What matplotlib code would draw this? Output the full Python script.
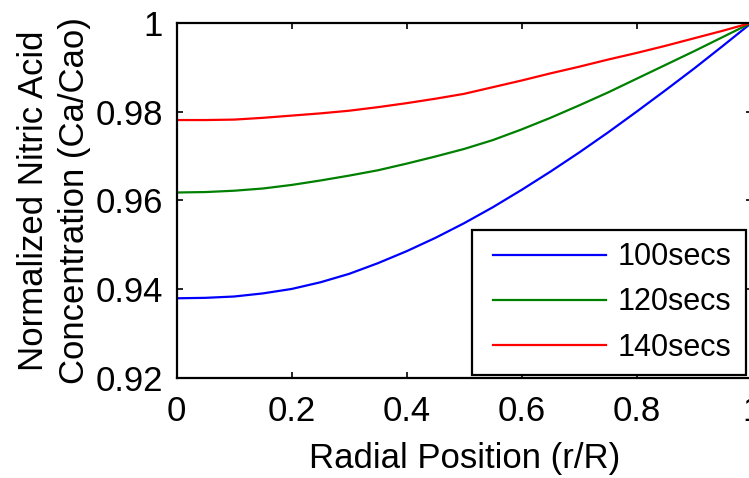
import matplotlib
matplotlib.use("Agg")
from matplotlib import pyplot as plt
from matplotlib.lines import Line2D
from matplotlib.legend_handler import HandlerLine2D

plt.rcParams["font.family"] = ["Liberation Sans", "DejaVu Sans"]

# data
r_pos = [0.0, 0.05, 0.1, 0.15, 0.2, 0.25, 0.3, 0.35, 0.4, 0.45, 0.5,
         0.55, 0.6, 0.65, 0.7, 0.75, 0.8, 0.85, 0.9, 0.95, 1.0]
conc_100 = [0.9380, 0.9381, 0.9384, 0.9391, 0.9401, 0.9416, 0.9435, 0.9459, 0.9486, 0.9516, 0.9549,
            0.9585, 0.9624, 0.9665, 0.9708, 0.9753, 0.9800, 0.9848, 0.9897, 0.9948, 1.0]
conc_120 = [0.9618, 0.9619, 0.9622, 0.9627, 0.9635, 0.9645, 0.9656, 0.9668, 0.9683, 0.9699, 0.9716,
            0.9736, 0.9760, 0.9786, 0.9814, 0.9843, 0.9874, 0.9905, 0.9936, 0.9968, 1.0]
conc_140 = [0.9781, 0.9781, 0.9782, 0.9786, 0.9791, 0.9796, 0.9802, 0.9810, 0.9819, 0.9829, 0.9840,
            0.9855, 0.9870, 0.9886, 0.9901, 0.9917, 0.9932, 0.9948, 0.9965, 0.9982, 1.0]
labels = ["100secs", "120secs", "140secs"]

x_ticks = [0, 0.2, 0.4, 0.6, 0.8, 1]
x_ticklabels = ["0", "0.2", "0.4", "0.6", "0.8", "1"]
y_ticks = [0.92, 0.94, 0.96, 0.98, 1.0]
y_ticklabels = ["0.92", "0.94", "0.96", "0.98", "1"]

fig = plt.figure(figsize=(7.49, 4.78), dpi=100)
ax = fig.add_axes([0.2359, 0.2086, 0.7677, 0.7439])

ax.plot(r_pos, conc_100, color=(0, 0, 1), lw=1.6, label=labels[0])
ax.plot(r_pos, conc_120, color=(0, 0.5, 0), lw=1.6, label=labels[1])
ax.plot(r_pos, conc_140, color=(1, 0, 0), lw=1.6, label=labels[2])

ax.set_xlim(0, 1)
ax.set_ylim(0.92, 1.0)
ax.set_xticks(x_ticks)
ax.set_xticklabels(x_ticklabels)
ax.set_yticks(y_ticks)
ax.set_yticklabels(y_ticklabels)
ax.tick_params(direction="in", length=4, width=1.2, top=True, right=True,
               labelsize=25, pad=10)
ax.tick_params(axis="x", pad=12)
for s in ax.spines.values():
    s.set_linewidth(1.6)

ax.set_xlabel("Radial Position (r/R)", fontsize=25, labelpad=10)
ax.set_ylabel("Normalized Nitric Acid\nConcentration (Ca/Cao)", fontsize=25,
              labelpad=3, linespacing=1.3)

# legend box sits in the lower right corner, entries pushed a bit right
leg = ax.legend(loc="lower left", bbox_to_anchor=(0.5136, 0.0093, 0.4764, 0.405),
                mode="expand", borderaxespad=0, fontsize=22, handlelength=4.0,
                handletextpad=0.35, borderpad=0.4, labelspacing=0.5,
                fancybox=False, framealpha=1,
                handler_map={Line2D: HandlerLine2D(xpad=0.3)})
leg.get_frame().set_edgecolor("black")
leg.get_frame().set_linewidth(1.6)

plt.savefig("out.png", dpi=100)
